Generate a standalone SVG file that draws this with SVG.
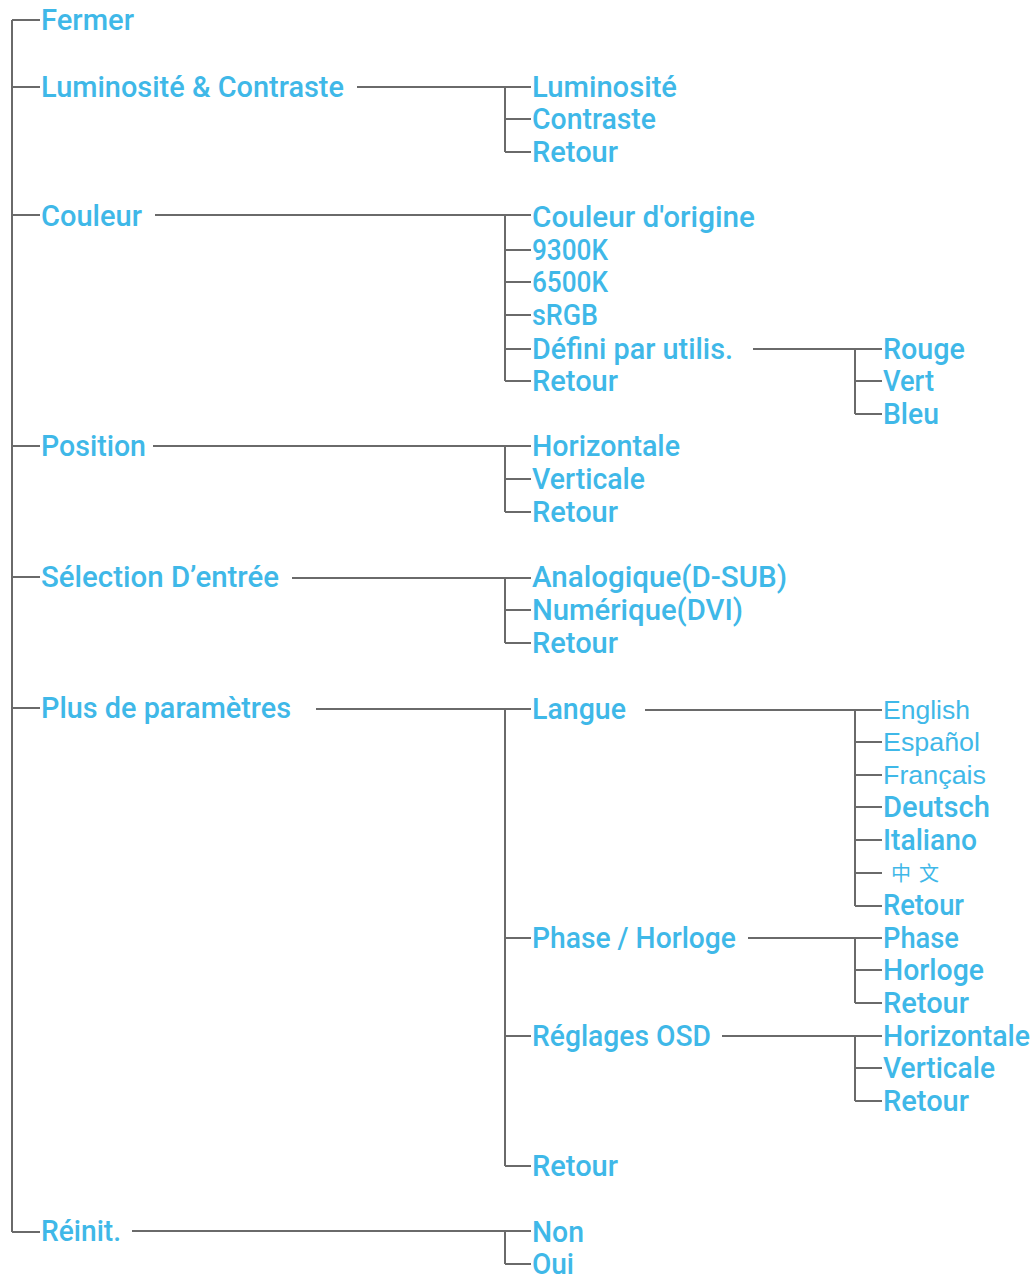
<svg xmlns="http://www.w3.org/2000/svg" width="1036" height="1279" viewBox="0 0 1036 1279">
<style>
.t{font-family:Roboto,"Liberation Sans",sans-serif;font-size:29px;font-weight:500;fill:#3fb8e8}
.a{font-family:"Liberation Sans",Arial,sans-serif;font-size:25px;fill:#3fb8e8}
.c{font-family:"Noto Sans CJK SC",sans-serif;font-size:20px;fill:#3fb8e8}
.l{stroke:#6a6a6a;stroke-width:2;fill:none}
</style>
<rect width="1036" height="1279" fill="#fff"/>
<g id="connectors" class="l">
<path d="M12 20V1232M12 20H40M12 87H40M12 215H40M12 446H40M12 577H40M12 708H40M12 1232H40"/>
<path d="M357 87H531M505 87V152M505 119H531M505 152H531"/>
<path d="M155 215H531M505 215V381M505 250H531M505 282H531M505 315H531M505 349H531M505 381H531"/>
<path d="M753 349H882M855 349V414M855 381H882M855 414H882"/>
<path d="M153 446H531M505 446V512M505 479H531M505 512H531"/>
<path d="M292 578H531M505 578V643M505 610H531M505 643H531"/>
<path d="M316 709H531M505 709V1166M505 938H531M505 1036H531M505 1166H531"/>
<path d="M645 710H882M855 710V906M855 742H882M855 775H882M855 807H882M855 840H882M855 873H882M855 906H882"/>
<path d="M748 938H882M855 938V1003M855 970H882M855 1003H882"/>
<path d="M722 1036H882M855 1036V1101M855 1068H882M855 1101H882"/>
<path d="M132 1231H531M505 1231V1264M505 1264H531"/>
</g>
<g id="n-fermer"><text class="t" x="41" y="30" textLength="93" lengthAdjust="spacingAndGlyphs">Fermer</text></g>
<g id="n-lum"><text class="t" x="41" y="97" textLength="303" lengthAdjust="spacingAndGlyphs">Luminosité &amp; Contraste</text></g>
<g id="n-couleur"><text class="t" x="41" y="226" textLength="101" lengthAdjust="spacingAndGlyphs">Couleur</text></g>
<g id="n-position"><text class="t" x="41" y="456" textLength="105" lengthAdjust="spacingAndGlyphs">Position</text></g>
<g id="n-selection"><text class="t" x="41" y="587" textLength="238" lengthAdjust="spacingAndGlyphs">Sélection D’entrée</text></g>
<g id="n-plus"><text class="t" x="41" y="718" textLength="250" lengthAdjust="spacingAndGlyphs">Plus de paramètres</text></g>
<g id="n-reinit"><text class="t" x="41" y="1241" textLength="80" lengthAdjust="spacingAndGlyphs">Réinit.</text></g>

<g id="n-lum1"><text class="t" x="532" y="97" textLength="145" lengthAdjust="spacingAndGlyphs">Luminosité</text></g>
<g id="n-lum2"><text class="t" x="532" y="129" textLength="124" lengthAdjust="spacingAndGlyphs">Contraste</text></g>
<g id="n-lum3"><text class="t" x="532" y="162" textLength="86" lengthAdjust="spacingAndGlyphs">Retour</text></g>

<g id="n-col1"><text class="t" x="532" y="227" textLength="223" lengthAdjust="spacingAndGlyphs">Couleur d'origine</text></g>
<g id="n-col2"><text class="t" x="532" y="260" textLength="76" lengthAdjust="spacingAndGlyphs">9300K</text></g>
<g id="n-col3"><text class="t" x="532" y="292" textLength="76" lengthAdjust="spacingAndGlyphs">6500K</text></g>
<g id="n-col4"><text class="t" x="532" y="325" textLength="66" lengthAdjust="spacingAndGlyphs">sRGB</text></g>
<g id="n-col5"><text class="t" x="532" y="359" textLength="201" lengthAdjust="spacingAndGlyphs">Défini par utilis.</text></g>
<g id="n-col6"><text class="t" x="532" y="391" textLength="86" lengthAdjust="spacingAndGlyphs">Retour</text></g>
<g id="n-rgb1"><text class="t" x="883" y="359" textLength="82" lengthAdjust="spacingAndGlyphs">Rouge</text></g>
<g id="n-rgb2"><text class="t" x="883" y="391" textLength="51" lengthAdjust="spacingAndGlyphs">Vert</text></g>
<g id="n-rgb3"><text class="t" x="883" y="424" textLength="56" lengthAdjust="spacingAndGlyphs">Bleu</text></g>

<g id="n-pos1"><text class="t" x="532" y="456" textLength="148" lengthAdjust="spacingAndGlyphs">Horizontale</text></g>
<g id="n-pos2"><text class="t" x="532" y="489" textLength="113" lengthAdjust="spacingAndGlyphs">Verticale</text></g>
<g id="n-pos3"><text class="t" x="532" y="522" textLength="86" lengthAdjust="spacingAndGlyphs">Retour</text></g>

<g id="n-sel1"><text class="t" x="532" y="587" textLength="255" lengthAdjust="spacingAndGlyphs">Analogique(D-SUB)</text></g>
<g id="n-sel2"><text class="t" x="532" y="620" textLength="211" lengthAdjust="spacingAndGlyphs">Numérique(DVI)</text></g>
<g id="n-sel3"><text class="t" x="532" y="653" textLength="86" lengthAdjust="spacingAndGlyphs">Retour</text></g>

<g id="n-langue"><text class="t" x="532" y="719" textLength="94" lengthAdjust="spacingAndGlyphs">Langue</text></g>
<g id="n-phase"><text class="t" x="532" y="948" textLength="204" lengthAdjust="spacingAndGlyphs">Phase / Horloge</text></g>
<g id="n-osd"><text class="t" x="532" y="1046" textLength="179" lengthAdjust="spacingAndGlyphs">Réglages OSD</text></g>
<g id="n-plus-ret"><text class="t" x="532" y="1176" textLength="86" lengthAdjust="spacingAndGlyphs">Retour</text></g>

<g id="n-en"><text class="a" x="883" y="719" textLength="87" lengthAdjust="spacingAndGlyphs">English</text></g>
<g id="n-es"><text class="a" x="883" y="751" textLength="97" lengthAdjust="spacingAndGlyphs">Español</text></g>
<g id="n-fr"><text class="a" x="883" y="784" textLength="103" lengthAdjust="spacingAndGlyphs">Français</text></g>
<g id="n-de"><text class="t" x="883" y="817" textLength="107" lengthAdjust="spacingAndGlyphs">Deutsch</text></g>
<g id="n-it"><text class="t" x="883" y="850" textLength="94" lengthAdjust="spacingAndGlyphs">Italiano</text></g>
<g id="n-zh"><text class="c" x="891" y="881" letter-spacing="8">中文</text></g>
<g id="n-lang-ret"><text class="t" x="883" y="915" textLength="81" lengthAdjust="spacingAndGlyphs">Retour</text></g>

<g id="n-ph1"><text class="t" x="883" y="948" textLength="76" lengthAdjust="spacingAndGlyphs">Phase</text></g>
<g id="n-ph2"><text class="t" x="883" y="980" textLength="101" lengthAdjust="spacingAndGlyphs">Horloge</text></g>
<g id="n-ph3"><text class="t" x="883" y="1013" textLength="86" lengthAdjust="spacingAndGlyphs">Retour</text></g>

<g id="n-osd1"><text class="t" x="883" y="1046" textLength="147" lengthAdjust="spacingAndGlyphs">Horizontale</text></g>
<g id="n-osd2"><text class="t" x="883" y="1078" textLength="112" lengthAdjust="spacingAndGlyphs">Verticale</text></g>
<g id="n-osd3"><text class="t" x="883" y="1111" textLength="86" lengthAdjust="spacingAndGlyphs">Retour</text></g>

<g id="n-non"><text class="t" x="532" y="1242" textLength="52" lengthAdjust="spacingAndGlyphs">Non</text></g>
<g id="n-oui"><text class="t" x="532" y="1274" textLength="42" lengthAdjust="spacingAndGlyphs">Oui</text></g>
</svg>
